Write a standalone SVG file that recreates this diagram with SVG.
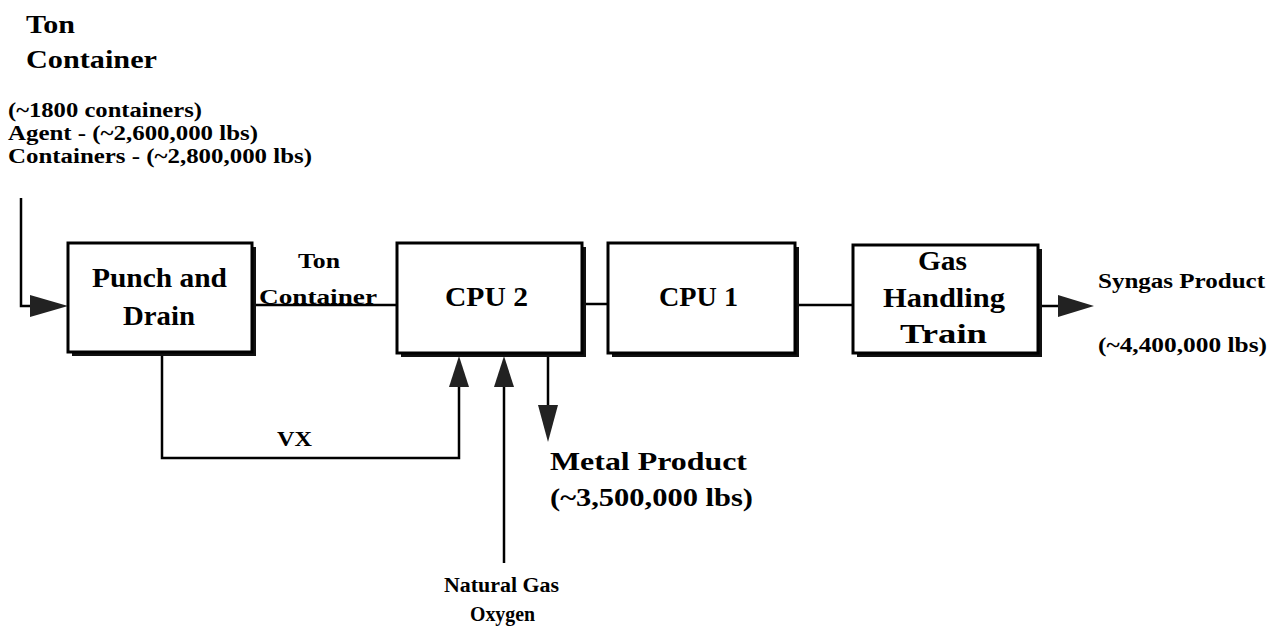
<svg xmlns="http://www.w3.org/2000/svg" width="1281" height="634" viewBox="0 0 1281 634">
<style>
text{font-family:'Liberation Serif','Tinos','DejaVu Serif',serif;font-weight:bold;fill:#000}
.box{fill:#fff;stroke:#000;stroke-width:3}
.sh{fill:#111}
.ln{fill:none;stroke:#000;stroke-width:2.5}
.ah{fill:#222}
.big{font-size:28px}
.mp{font-size:26px}
.med{font-size:20px}
.lbl{font-size:25px}
</style>
<g id="connectors">
<path class="ln" d="M21,198 V306 H30"/>
<path class="ah" d="M30,295 L68,306 L30,317 z"/>
<path class="ln" d="M255,305 H397"/>
<path class="ln" d="M584,304 H608"/>
<path class="ln" d="M798,305 H853"/>
<path class="ln" d="M1040,306 H1058"/>
<path class="ah" d="M1058,295 L1094,306 L1058,317 z"/>
<path class="ln" d="M162,356 V458 H459 V387"/>
<path class="ah" d="M449,387 L459,356 L469,387 z"/>
<path class="ln" d="M504,563 V387"/>
<path class="ah" d="M494,387 L504,356 L514,387 z"/>
<path class="ln" d="M548,356 V405"/>
<path class="ah" d="M538,405 L548,442 L558,405 z"/>
</g>
<g id="punch-drain">
<rect class="sh" x="72" y="247" width="184" height="109"/>
<rect class="box" x="68" y="243" width="184" height="109"/>
<text class="big" x="92" y="287" textLength="135" lengthAdjust="spacingAndGlyphs">Punch and</text>
<text class="big" x="123" y="325" textLength="72" lengthAdjust="spacingAndGlyphs">Drain</text>
</g>
<g id="cpu2">
<rect class="sh" x="401" y="247" width="185" height="110"/>
<rect class="box" x="397" y="243" width="185" height="110"/>
<text class="big" x="445" y="306" textLength="83" lengthAdjust="spacingAndGlyphs">CPU 2</text>
</g>
<g id="cpu1">
<rect class="sh" x="612" y="247" width="187" height="110"/>
<rect class="box" x="608" y="243" width="187" height="110"/>
<text class="big" x="659" y="306" textLength="79" lengthAdjust="spacingAndGlyphs">CPU 1</text>
</g>
<g id="gas-handling-train">
<rect class="sh" x="857" y="249" width="185" height="108"/>
<rect class="box" x="853" y="245" width="185" height="108"/>
<text class="big" x="918" y="270" textLength="49" lengthAdjust="spacingAndGlyphs">Gas</text>
<text class="big" x="883" y="307" textLength="122" lengthAdjust="spacingAndGlyphs">Handling</text>
<text class="big" x="900" y="343" textLength="87" lengthAdjust="spacingAndGlyphs">Train</text>
</g>
<g id="labels">
<text class="lbl" x="26" y="33" textLength="49" lengthAdjust="spacingAndGlyphs">Ton</text>
<text class="lbl" x="26" y="68" textLength="131" lengthAdjust="spacingAndGlyphs">Container</text>
<text class="med" x="8" y="117" textLength="194" lengthAdjust="spacingAndGlyphs">(~1800 containers)</text>
<text class="med" x="8" y="140" textLength="250" lengthAdjust="spacingAndGlyphs">Agent - (~2,600,000 lbs)</text>
<text class="med" x="8" y="163" textLength="304" lengthAdjust="spacingAndGlyphs">Containers - (~2,800,000 lbs)</text>
<text class="med" x="298" y="268" textLength="42" lengthAdjust="spacingAndGlyphs">Ton</text>
<text class="med" x="259" y="304" textLength="118" lengthAdjust="spacingAndGlyphs">Container</text>
<text class="med" x="277" y="446" textLength="35" lengthAdjust="spacingAndGlyphs">VX</text>
<text class="med" x="1098" y="288" textLength="167" lengthAdjust="spacingAndGlyphs">Syngas Product</text>
<text class="med" x="1098" y="352" textLength="169" lengthAdjust="spacingAndGlyphs">(~4,400,000 lbs)</text>
<text class="mp" x="550" y="470" textLength="197" lengthAdjust="spacingAndGlyphs">Metal Product</text>
<text class="mp" x="550" y="506" textLength="203" lengthAdjust="spacingAndGlyphs">(~3,500,000 lbs)</text>
<text class="med" x="444" y="592" textLength="115" lengthAdjust="spacingAndGlyphs">Natural Gas</text>
<text class="med" x="470" y="621" textLength="65" lengthAdjust="spacingAndGlyphs">Oxygen</text>
</g>
</svg>
